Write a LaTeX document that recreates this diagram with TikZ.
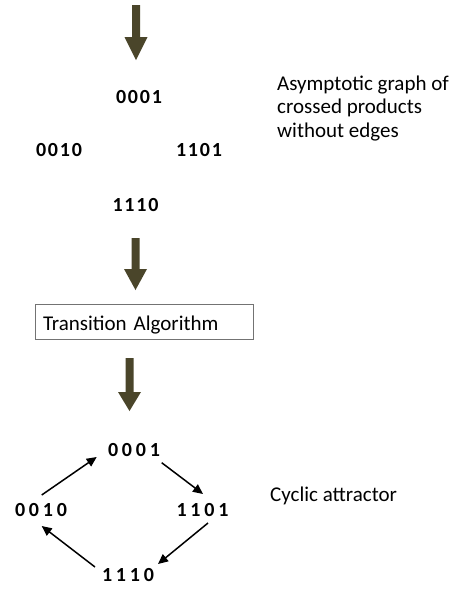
\documentclass[tikz,border=0pt]{standalone}
\usepackage{fontspec}
\setmainfont{Carlito}
\usetikzlibrary{arrows.meta}
\definecolor{arrowc}{HTML}{4A452A}
\newcommand\bigarr[4]{\fill[arrowc] (#1-4,#2) -- (#1+4,#2) -- (#1+4,#3) -- (#1+11.5,#3) -- (#1,#4) -- (#1-11.5,#3) -- (#1-4,#3) -- cycle;}
\begin{document}
\begin{tikzpicture}[x=1pt,y=-1pt,
  bits/.style={font=\fontsize{20}{22}\selectfont\bfseries, inner sep=0pt, anchor=base},
  lbl/.style={font=\fontsize{21}{23.5}\selectfont, align=left, anchor=base west, inner sep=0pt},
  cyc/.style={draw=black, line width=1.5pt, -{Triangle[length=10pt,width=9pt]}}]
\useasboundingbox (0,0) rectangle (450,614);
% big arrows
\bigarr{136}{5}{37}{60}
\bigarr{135.5}{238}{269}{290}
\bigarr{129.5}{358}{392}{411}
% top bit strings
\node[bits] (t0001) at (139,103.3) {0\hspace{1.8pt}0\hspace{1.8pt}0\hspace{1.8pt}1};
\node[bits] (t0010) at (59,156) {0\hspace{1.8pt}0\hspace{1.8pt}1\hspace{1.8pt}0};
\node[bits] (t1101) at (199,156) {1\hspace{1.8pt}1\hspace{1.8pt}0\hspace{1.8pt}1};
\node[bits] (t1110) at (135.5,211) {1\hspace{1.8pt}1\hspace{1.8pt}1\hspace{1.8pt}0};
\node[lbl] (lab1) at (277,137) {Asymptotic graph of\\crossed products\\without edges};
% transition box
\node[draw=black!55, line width=0.8pt, text width=202pt, inner xsep=8pt, inner ysep=0pt,
  minimum height=35pt, align=left, font=\fontsize{21}{23.5}\selectfont,
  text height=17pt, text depth=0pt] (ta) at (144,321.5) {Transition Algorithm};
% bottom bit strings
\node[bits] (b0001) at (134,456.5) {0\hspace{3.8pt}0\hspace{3.8pt}0\hspace{3.8pt}1};
\node[bits] (b0010) at (41,516.5) {0\hspace{3.8pt}0\hspace{3.8pt}1\hspace{3.8pt}0};
\node[bits] (b1101) at (202.5,516.5) {1\hspace{3.8pt}1\hspace{3.8pt}0\hspace{3.8pt}1};
\node[bits] (b1110) at (128,581.5) {1\hspace{3.8pt}1\hspace{3.8pt}1\hspace{3.8pt}0};
\node[lbl] (lab2) at (270,501) {Cyclic attractor};
% cycle arrows
\draw[cyc] ([shift={(0.7,-21.5)}]b0010.base) -- ([shift={(-37.3,0.5)}]b0001.base);
\draw[cyc] ([shift={(27.7,6.2)}]b0001.base) -- ([shift={(0.5,-22.5)}]b1101.base);
\draw[cyc] ([shift={(5.5,6.5)}]b1101.base) -- ([shift={(30,-17.5)}]b1110.base);
\draw[cyc] ([shift={(-33,-14.5)}]b1110.base) -- ([shift={(0.7,9.5)}]b0010.base);
\end{tikzpicture}
\end{document}
